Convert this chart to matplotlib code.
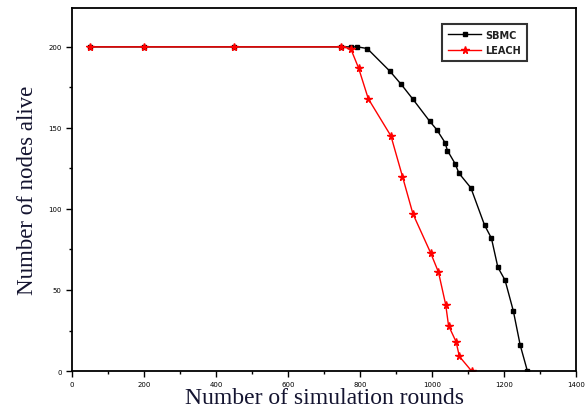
import numpy as np
import matplotlib
matplotlib.use('Agg')
import matplotlib.pyplot as plt
from matplotlib.ticker import MultipleLocator

# data
sbmc_rounds = [50, 200, 450, 746, 774, 793, 820, 883, 914, 946, 994, 1013, 1036, 1043,
               1064, 1075, 1108, 1146, 1165, 1183, 1203, 1226, 1245, 1265]
sbmc_alive = [200, 200, 200, 200, 200, 200, 199, 185, 177, 168, 154, 149, 141, 136,
              128, 122, 113, 90, 82, 64, 56, 37, 16, 0]

leach_rounds = [50, 200, 450, 746, 774, 796, 823, 886, 918, 947, 996, 1018, 1038, 1046,
                1067, 1076, 1110]
leach_alive = [200, 200, 200, 200, 199, 187, 168, 145, 120, 97, 73, 61, 41, 28, 18, 9, 0]

xticks = [0, 200, 400, 600, 800, 1000, 1200, 1400]
yticks = [0, 50, 100, 150, 200]

fig = plt.figure(figsize=(5.85, 4.14), dpi=100)
ax = fig.add_axes([0.1231, 0.1014, 0.8615, 0.8769])

ax.plot(sbmc_rounds, sbmc_alive, color='black', lw=1.0, marker='s', ms=3.2,
        label='SBMC')
ax.plot(leach_rounds, leach_alive, color='red', lw=1.0, marker='*', ms=5.5,
        label='LEACH')

ax.set_xlim(0, 1400)
ax.set_ylim(0, 224)
ax.set_xticks(xticks)
ax.set_yticks(yticks)
ax.xaxis.set_minor_locator(MultipleLocator(100))
ax.yaxis.set_minor_locator(MultipleLocator(25))
ax.tick_params(which='major', direction='out', length=4, width=1, labelsize=5)
ax.tick_params(which='minor', direction='out', length=2.5, width=1)
for s in ax.spines.values():
    s.set_linewidth(1.3)

ax.set_xlabel('Number of simulation rounds', family='Liberation Serif',
              fontsize=17, color='#141430', labelpad=0)
ax.set_ylabel('Number of nodes alive', family='Liberation Serif',
              fontsize=16.5, color='#141430', labelpad=7)

leg = ax.legend(loc='upper right', bbox_to_anchor=(0.912, 0.97), fontsize=7,
                frameon=True, fancybox=False, edgecolor='black',
                handlelength=3.4, handletextpad=0.4, borderpad=0.6,
                labelspacing=0.6)
leg.get_frame().set_linewidth(1.5)
for t in leg.get_texts():
    t.set_fontweight('bold')
    t.set_color('#202020')

fig.savefig('out.png', dpi=100)
